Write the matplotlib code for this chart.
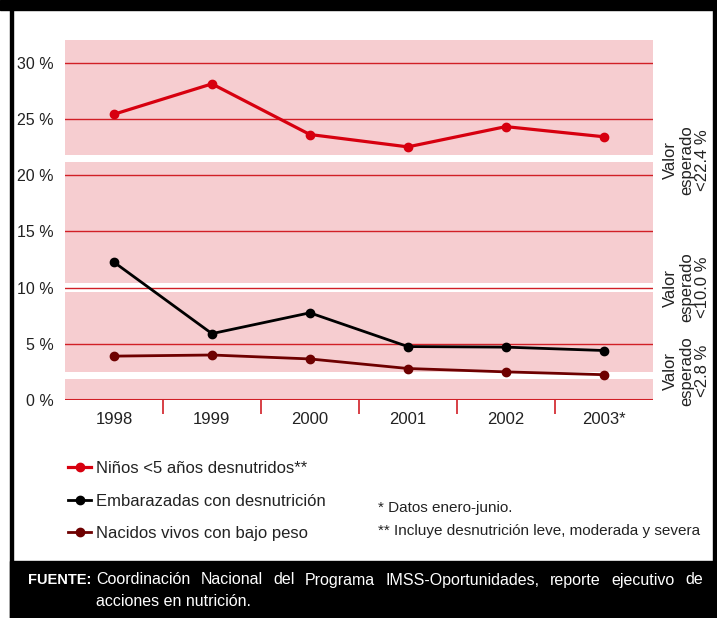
import matplotlib
matplotlib.use("Agg")
import matplotlib.pyplot as plt
from matplotlib.patches import Rectangle
import numpy as np

plt.rcParams['font.family'] = ['Liberation Sans', 'DejaVu Sans']

# datos
years = ['1998', '1999', '2000', '2001', '2002', '2003*']
ninos = [25.4, 28.1, 23.6, 22.5, 24.3, 23.4]
embarazadas = [12.25, 5.9, 7.75, 4.75, 4.7, 4.4]
nacidos = [3.9, 4.0, 3.65, 2.8, 2.5, 2.25]
series_labels = ['Niños <5 años desnutridos**',
                 'Embarazadas con desnutrición',
                 'Nacidos vivos con bajo peso']
yticks = [0, 5, 10, 15, 20, 25, 30]
ytick_labels = ['0 %', '5 %', '10 %', '15 %', '20 %', '25 %', '30 %']
# bandas rosas (entre huecos blancos) y etiquetas de valor esperado
pink_bands = [(0, 1.87), (2.52, 9.64), (10.38, 21.2), (21.8, 32)]
expected_pos = [21.3, 10.0, 2.6]
expected_labels = ['Valor\nesperado\n<22.4 %', 'Valor\nesperado\n<10.0 %',
                   'Valor\nesperado\n<2.8 %']
fuente = 'Coordinación Nacional del Programa IMSS-Oportunidades, reporte ejecutivo de'

pink = '#F6CDD0'
red = '#D7000F'
grid_red = '#D11F26'
dark_red = '#6E0000'
txt = '#222222'

fig = plt.figure(figsize=(7.17, 6.18), dpi=100)

# marco negro
fig.patches.append(Rectangle((0, 1 - 10/618), 1, 10/618, transform=fig.transFigure,
                             color='black', zorder=0))
fig.patches.append(Rectangle((10/717, 0), 2.5/717, 1, transform=fig.transFigure,
                             color='black', zorder=0))
fig.patches.append(Rectangle((712.5/717, 0), 3/717, 1, transform=fig.transFigure,
                             color='black', zorder=0))
fig.patches.append(Rectangle((10/717, 0), 707/717, 57/618, transform=fig.transFigure,
                             color='black', zorder=0))

ax = fig.add_axes([65/717, (618 - 400)/618, 587.7/717, 360/618])
x = np.arange(len(years))

for lo, hi in pink_bands:
    ax.axhspan(lo, hi, color=pink, lw=0, zorder=0)
for v in yticks[1:]:
    ax.axhline(v, color=grid_red, lw=1.0, zorder=1)
ax.axhline(0, color=grid_red, lw=1.5, zorder=1)

ax.plot(x, ninos, color=red, lw=2.3, marker='o', ms=6, label=series_labels[0], zorder=3)
ax.plot(x, embarazadas, color='black', lw=2.0, marker='o', ms=6, label=series_labels[1], zorder=3)
ax.plot(x, nacidos, color=dark_red, lw=2.0, marker='o', ms=6, label=series_labels[2], zorder=3)

ax.set_xlim(-0.5, 5.5)
ax.set_ylim(0, 32)
ax.set_yticks(yticks)
ax.set_yticklabels(ytick_labels, fontsize=11.5, color=txt)
ax.set_xticks(x)
ax.set_xticklabels(years, fontsize=12, color=txt)
ax.set_xticks(x[:-1] + 0.5, minor=True)
ax.tick_params(axis='y', length=0, pad=8)
ax.tick_params(axis='x', which='major', length=0, pad=9)
ax.tick_params(axis='x', which='minor', length=10, width=1.2, color=grid_red, direction='out')
for s in ax.spines.values():
    s.set_visible(False)

for pos, lab in zip(expected_pos, expected_labels):
    ax.text(1.058, pos, lab, transform=ax.get_yaxis_transform(), rotation=90,
            ha='center', va='center', multialignment='center', fontsize=12,
            color=txt, linespacing=1.1)

fig.legend(loc='upper left', bbox_to_anchor=(53/717, 1 - 446/618), frameon=False,
           fontsize=12, handlelength=1.4, handletextpad=0.3, labelspacing=1.05,
           labelcolor=txt)

fig.text(378/717, 1 - 508/618, '* Datos enero-junio.', fontsize=11, va='center',
         color=txt)
fig.text(378/717, 1 - 531/618, '** Incluye desnutrición leve, moderada y severa',
         fontsize=11, va='center', color=txt)

fig.text(28/717, 1 - 580/618, 'FUENTE:', fontsize=10.5, weight='bold', color='white',
         va='center')

# primera línea justificada entre x=96 y x=703
renderer = fig.canvas.get_renderer()
words = fuente.split(' ')
objs = [fig.text(0, 1 - 580/618, w, fontsize=11.5, color='white', va='center')
        for w in words]
widths = [o.get_window_extent(renderer).width for o in objs]
gap = (703 - 96 - sum(widths)) / (len(words) - 1)
xpos = 96
for o, w in zip(objs, widths):
    o.set_x(xpos / 717)
    xpos += w + gap
fig.text(96/717, 1 - 601/618, 'acciones en nutrición.', fontsize=11.5, color='white',
         va='center')

fig.savefig('out.png', dpi=100)
